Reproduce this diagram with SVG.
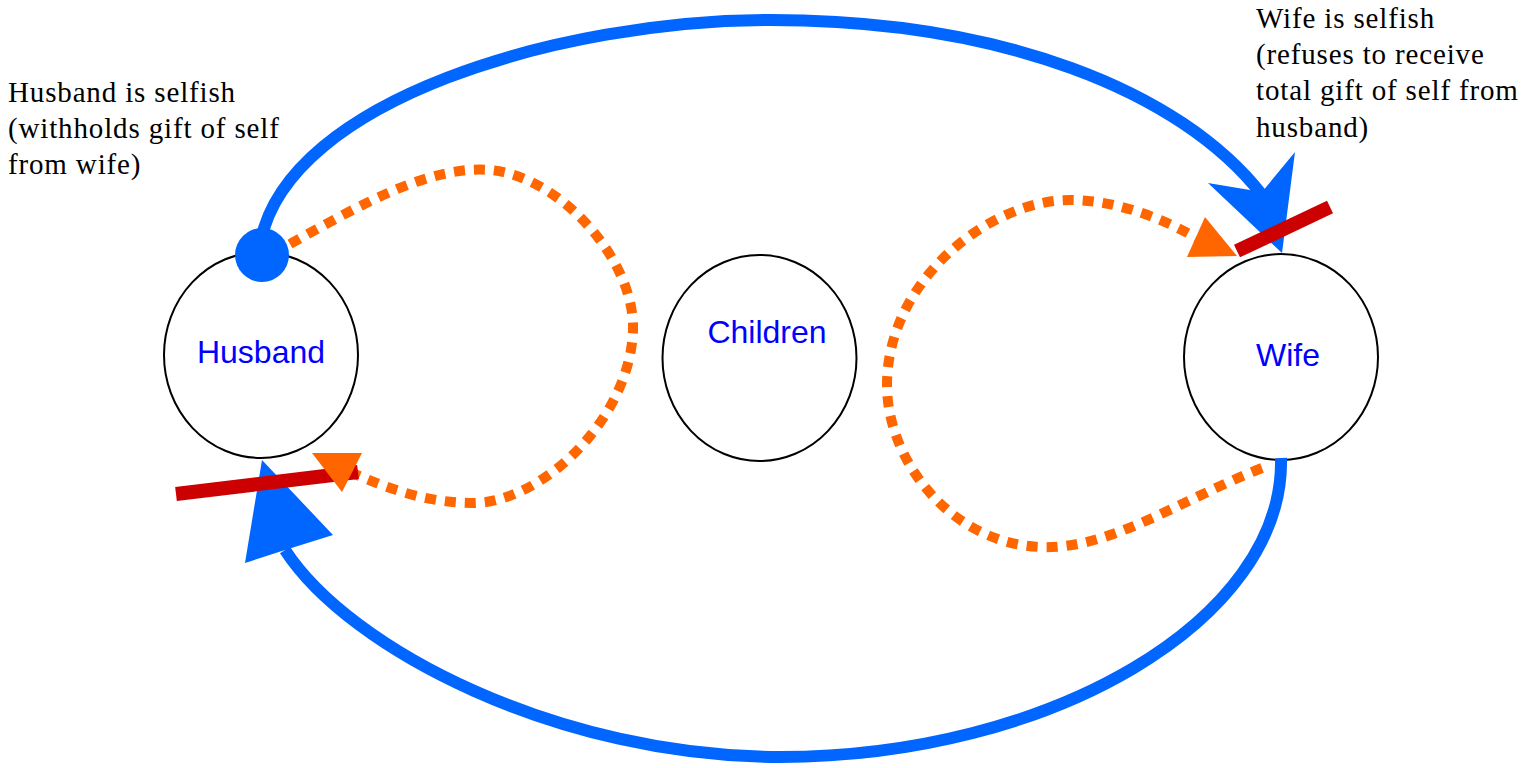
<svg xmlns="http://www.w3.org/2000/svg" width="1540" height="768" viewBox="0 0 1540 768">
<style>
.node{fill:#fff;stroke:#000;stroke-width:2}
.lbl{font-family:"Liberation Sans",Arial,sans-serif;font-size:32px;fill:#0000ff;text-anchor:middle}
.note{font-family:"Liberation Serif","Times New Roman",serif;font-size:29px;letter-spacing:0.85px;fill:#000}
.blue{fill:none;stroke:#0066ff;stroke-width:12}
.orange{fill:none;stroke:#ff6600;stroke-width:10;stroke-dasharray:11 9}
.red{stroke:#cc0000;stroke-width:14}
.bh{fill:#0066ff}
.oh{fill:#ff6600}
</style>
<rect width="1540" height="768" fill="#fff"/>
<g id="husband"><ellipse class="node" cx="261" cy="355" rx="97" ry="103"/><text class="lbl" x="261" y="363">Husband</text></g>
<g id="children"><ellipse class="node" cx="759.5" cy="358" rx="97" ry="103"/><text class="lbl" x="767" y="343">Children</text></g>
<g id="wife"><ellipse class="node" cx="1281" cy="357" rx="97" ry="103"/><text class="lbl" x="1288" y="366">Wife</text></g>
<g id="connectors">
<path class="blue" d="M261,240 C290,100 560,20 770,20 C1000,20 1180,90 1262,195"/>
<polygon class="bh" points="1282,253 1208,183 1262,192 1295,152"/>
<circle class="bh" cx="262" cy="255" r="27"/>
<path class="blue" d="M1281,458 C1285,620 1050,757 780,757 C560,757 350,650 285,550"/>
<polygon class="bh" points="262,460 333,535 285,550 245,563"/>
<path class="orange" d="M290,244 C360,205 430,165 490,170 C560,176 635,260 633,330 C630,420 540,505 470,503 C420,502 380,485 350,472"/>
<path class="orange" d="M1262,468 C1180,500 1110,550 1040,547 C950,543 887,460 887,385 C887,280 990,200 1070,200 C1120,200 1170,222 1200,240"/>
<line class="red" x1="176" y1="494" x2="358" y2="472"/>
<line class="red" x1="1237" y1="251" x2="1330" y2="207"/>
<polygon class="oh" points="312,453 362,453 342,492"/>
<polygon class="oh" points="1205,217 1187,257 1237,256"/>
</g>
<g id="notes">
<text class="note"><tspan x="8" y="102">Husband is selfish</tspan><tspan x="8" y="138">(withholds gift of self</tspan><tspan x="8" y="174">from wife)</tspan></text>
<text class="note"><tspan x="1256" y="28">Wife is selfish</tspan><tspan x="1256" y="64">(refuses to receive</tspan><tspan x="1256" y="100">total gift of self from</tspan><tspan x="1256" y="137">husband)</tspan></text>
</g>
</svg>
